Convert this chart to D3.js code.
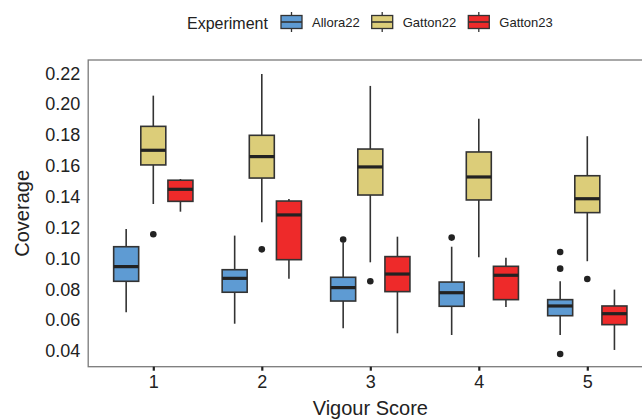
<!DOCTYPE html>
<html>
<head>
<meta charset="utf-8">
<script src="https://cdn.jsdelivr.net/npm/d3@7"></script>
<style>
  html, body { margin: 0; padding: 0; background: #fff; }
  svg { display: block; font-family: "Liberation Sans", Arial, sans-serif; }
</style>
</head>
<body>
<svg id="chart" width="642" height="420"></svg>
<script>
// ---- data ----
const scores = ["1", "2", "3", "4", "5"];
const experiments = ["Allora22", "Gatton22", "Gatton23"];
const colors = ["#5e9bd3", "#dccd79", "#ee2a2a"];
const yTicks = [0.04, 0.06, 0.08, 0.10, 0.12, 0.14, 0.16, 0.18, 0.20, 0.22];
// [whiskerLow, q1, median, q3, whiskerHigh] per score
const allora22 = [
  [0.0651, 0.0852, 0.0947, 0.1076, 0.1191],
  [0.0577, 0.0781, 0.0871, 0.0927, 0.1148],
  [0.0547, 0.0724, 0.0811, 0.0878, 0.1100],
  [0.0504, 0.0690, 0.0778, 0.0847, 0.1076],
  [0.0504, 0.0629, 0.0692, 0.0733, 0.0852]
];
const gatton22 = [
  [0.1353, 0.1606, 0.1701, 0.1856, 0.2055],
  [0.1234, 0.1521, 0.1660, 0.1798, 0.2195],
  [0.0975, 0.1411, 0.1593, 0.1709, 0.2118],
  [0.1007, 0.1379, 0.1528, 0.1690, 0.1906],
  [0.0982, 0.1297, 0.1387, 0.1536, 0.1792]
];
const gatton23 = [
  [0.1303, 0.1370, 0.1448, 0.1507, 0.1515],
  [0.0869, 0.0992, 0.1282, 0.1372, 0.1385],
  [0.0515, 0.0785, 0.0899, 0.1012, 0.1141],
  [0.0685, 0.0733, 0.0891, 0.0949, 0.1005],
  [0.0407, 0.0571, 0.0642, 0.0692, 0.0798]
];
const allora22Outliers = [[], [], [0.1122], [0.1135], [0.1042, 0.0934, 0.0381]];
const gatton22Outliers = [[0.1157], [0.1059], [0.0852], [], [0.0867]];
const gatton23Outliers = [[], [], [], [], []];

const seriesStats = [allora22, gatton22, gatton23];
const seriesOutliers = [allora22Outliers, gatton22Outliers, gatton23Outliers];

// ---- layout ----
const svg = d3.select("#chart");
const panel = { left: 88.2, right: 652.4, top: 60, bottom: 366.7 };

const y = d3.scaleLinear().domain([0.02985, 0.2286]).range([panel.bottom, panel.top]);
const x = d3.scalePoint().domain(scores).range([153.3, 587.3]);
const inner = d3.scaleBand().domain(experiments).range([-40.7, 40.7]);
const boxW = 25;
const color = d3.scaleOrdinal().domain(experiments).range(colors);

// panel border
svg.append("rect")
  .attr("x", panel.left).attr("y", panel.top)
  .attr("width", panel.right - panel.left).attr("height", panel.bottom - panel.top)
  .attr("fill", "none").attr("stroke", "#7a7a7a").attr("stroke-width", 1.3);

// y axis
const yAxis = d3.axisLeft(y).tickValues(yTicks).tickSize(0).tickPadding(8)
  .tickFormat(d3.format(".2f"));
const gy = svg.append("g").attr("transform", `translate(${panel.left},0)`).call(yAxis);
gy.select(".domain").remove();
gy.selectAll("text").attr("font-size", 18).attr("fill", "#222")
  .attr("font-family", "Liberation Sans, Arial, sans-serif");

// x axis
const xAxis = d3.axisBottom(x).tickSize(4).tickPadding(5);
const gx = svg.append("g").attr("transform", `translate(0,${panel.bottom})`).call(xAxis);
gx.select(".domain").remove();
gx.selectAll("line").attr("stroke", "#222").attr("stroke-width", 2.2);
gx.selectAll("text").attr("font-size", 18).attr("fill", "#222")
  .attr("font-family", "Liberation Sans, Arial, sans-serif");

// axis titles
svg.append("text")
  .attr("x", (panel.left + panel.right) / 2).attr("y", 414.5)
  .attr("text-anchor", "middle").attr("font-size", 20).attr("fill", "#222")
  .text("Vigour Score");
svg.append("text")
  .attr("transform", `translate(29,${(panel.top + panel.bottom) / 2}) rotate(-90)`)
  .attr("text-anchor", "middle").attr("font-size", 20).attr("fill", "#222")
  .text("Coverage");

// boxes
const outline = "#333";
experiments.forEach((exp, si) => {
  const g = svg.append("g");
  scores.forEach((s, i) => {
    const [lo, q1, med, q3, hi] = seriesStats[si][i];
    const cx = x(s) + inner(exp) + inner.bandwidth() / 2;
    g.append("line").attr("x1", cx).attr("x2", cx).attr("y1", y(hi)).attr("y2", y(q3))
      .attr("stroke", outline).attr("stroke-width", 1.6);
    g.append("line").attr("x1", cx).attr("x2", cx).attr("y1", y(q1)).attr("y2", y(lo))
      .attr("stroke", outline).attr("stroke-width", 1.6);
    g.append("rect").attr("x", cx - boxW / 2).attr("y", y(q3))
      .attr("width", boxW).attr("height", y(q1) - y(q3))
      .attr("fill", color(exp)).attr("stroke", outline).attr("stroke-width", 1.6);
    g.append("line").attr("x1", cx - boxW / 2).attr("x2", cx + boxW / 2)
      .attr("y1", y(med)).attr("y2", y(med))
      .attr("stroke", "#222").attr("stroke-width", 3.2);
    seriesOutliers[si][i].forEach(v => {
      g.append("circle").attr("cx", cx).attr("cy", y(v)).attr("r", 3.3).attr("fill", "#222");
    });
  });
});

// legend
const lg = svg.append("g");
lg.append("text").attr("x", 187).attr("y", 28.5).attr("font-size", 16).attr("fill", "#222")
  .text("Experiment");
const keyX = [281, 371.7, 468.3];
experiments.forEach((exp, i) => {
  const kx = keyX[i], kw = 21, cy = 22;
  lg.append("line").attr("x1", kx + kw / 2).attr("x2", kx + kw / 2)
    .attr("y1", cy - 10).attr("y2", cy + 10).attr("stroke", outline).attr("stroke-width", 1.3);
  lg.append("rect").attr("x", kx).attr("y", cy - 6.5).attr("width", kw).attr("height", 13)
    .attr("fill", color(exp)).attr("stroke", outline).attr("stroke-width", 1.3);
  lg.append("line").attr("x1", kx).attr("x2", kx + kw).attr("y1", cy).attr("y2", cy)
    .attr("stroke", outline).attr("stroke-width", 1.6);
  lg.append("text").attr("x", kx + kw + 10).attr("y", cy + 5).attr("font-size", 13)
    .attr("fill", "#222").text(exp);
});
</script>
</body>
</html>
